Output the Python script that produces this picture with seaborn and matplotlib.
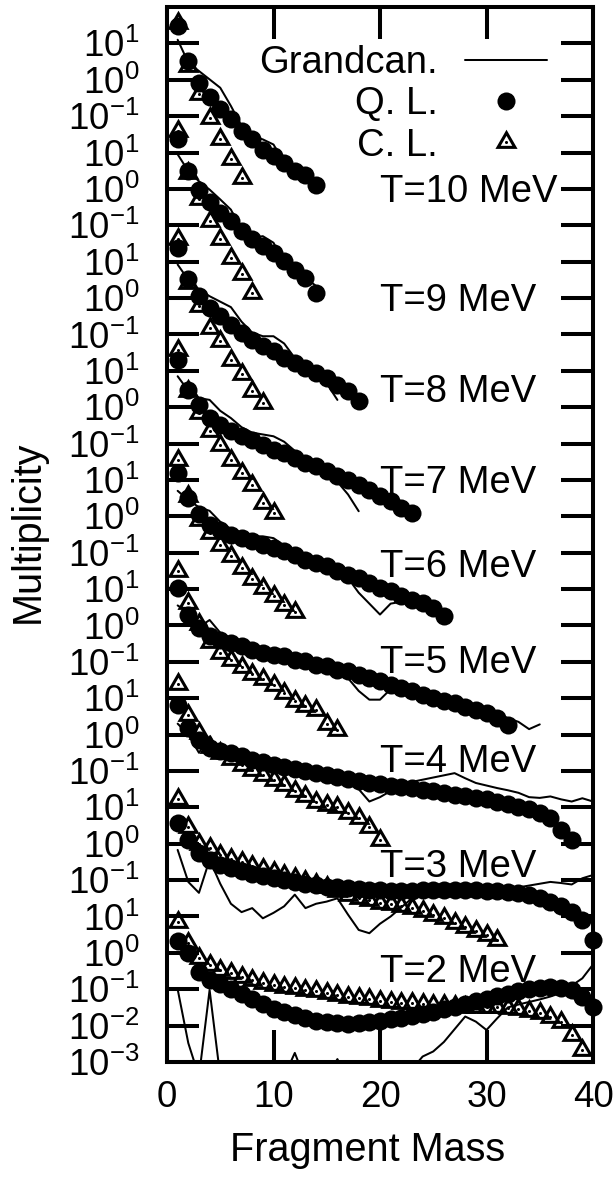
import numpy as np
import pandas as pd
import matplotlib
matplotlib.use("Agg")
import matplotlib.pyplot as plt
from matplotlib.lines import Line2D
import seaborn as sns

# Fragment multiplicities (log10) for each temperature.
# Element i of every list belongs to fragment mass i + 1.

# grand-canonical model (solid line)
gc_t10 = [1.10, 0.47, 0.24, 0.01, -0.22, -0.72, -1.27, -1.55, -1.64, -1.78, -2.28, -2.56, -2.65, -2.79]
gc_t9 = [0.95, 0.49, 0.21, -0.02, -0.29, -0.57, -1.12, -1.34, -1.30, -1.48, -2.03, -2.26, -2.44, -2.67]
gc_t8 = [0.92, 0.50, 0.23, 0.05, -0.10, -0.25, -0.65, -0.95, -1.05, -1.05, -1.25, -1.65, -1.85, -2.00, -2.35, -2.80]
gc_t7 = [0.85, 0.45, 0.25, 0.20, -0.10, -0.30, -0.55, -0.70, -0.75, -0.80, -0.95, -1.20, -1.40, -1.55, -1.70,
         -2.05, -2.40, -2.86]
gc_t6 = [0.70, 0.45, 0.25, 0.15, -0.15, -0.35, -0.45, -0.55, -0.55, -0.60, -0.80, -0.95, -1.10, -1.20, -1.35,
         -1.50, -1.70, -2.10, -2.40, -2.70, -2.40, -2.35, -2.30, -2.40, -2.50, -2.70]
gc_t5 = [0.55, 0.35, -0.05, 0.15, -0.20, -0.35, -0.45, -0.55, -0.65, -0.75, -0.80, -0.85, -0.90, -0.95, -1.00,
         -1.20, -1.45, -1.80, -2.04, -2.04, -1.75, -1.72, -1.75, -1.80, -1.88, -1.95, -2.05, -2.12, -2.20, -2.30,
         -2.40, -2.55, -2.65, -2.85, -2.72]
gc_t4 = [0.30, 0.00, -0.50, -0.05, -0.50, -0.58, -0.65, -0.70, -0.78, -0.85, -0.90, -0.95, -1.00, -1.05, -1.10,
         -1.18, -1.30, -1.50, -1.84, -1.72, -1.55, -1.38, -1.30, -1.24, -1.18, -1.12, -1.06, -1.20, -1.33, -1.40,
         -1.47, -1.53, -1.60, -1.72, -1.74, -1.70, -1.78, -1.84, -1.75, -1.84]
gc_t3 = [-0.17, -1.05, -1.35, -0.44, -1.10, -1.65, -1.88, -1.77, -2.05, -1.90, -1.72, -1.40, -1.77, -1.65, -1.59,
         -1.50, -1.95, -2.37, -2.46, -2.20, -2.00, -1.75, -1.50, -1.35, -1.30, -1.28, -1.25, -1.30, -1.22, -1.28,
         -1.25, -1.30, -1.20, -1.15, -1.10, -1.05, -1.08, -1.12, -0.95, -0.86]
gc_t2 = [-1.00, -2.48, -3.40, -1.02, -3.40, -3.60, -3.80, -3.50, -3.70, -3.60, -3.40, -2.75, -3.50, -3.70, -3.40,
         -2.92, -3.50, -3.80, -3.60, -3.40, -3.50, -3.30, -3.20, -2.85, -2.71, -2.45, -2.10, -1.75, -1.89, -2.12,
         -1.80, -1.50, -1.42, -1.35, -1.28, -1.20, -1.10, -0.90, -0.70, -0.32]

# quantum lattice gas (filled circles)
ql_t10 = [1.48, 0.51, -0.08, -0.47, -0.80, -1.08, -1.40, -1.64, -1.92, -2.10, -2.30, -2.50, -2.62, -2.88]
ql_t9 = [1.36, 0.49, -0.02, -0.36, -0.66, -0.89, -1.16, -1.39, -1.57, -1.76, -1.99, -2.22, -2.44, -2.86]
ql_t8 = [1.38, 0.51, 0.05, -0.27, -0.50, -0.73, -0.96, -1.14, -1.33, -1.46, -1.64, -1.78, -1.92, -2.06, -2.19,
         -2.38, -2.56, -2.84]
ql_t7 = [1.31, 0.48, 0.07, -0.29, -0.48, -0.66, -0.80, -0.89, -1.03, -1.17, -1.26, -1.39, -1.53, -1.63, -1.76,
         -1.90, -1.99, -2.13, -2.27, -2.45, -2.59, -2.77, -2.91]
ql_t6 = [1.19, 0.50, 0.05, -0.23, -0.37, -0.51, -0.60, -0.69, -0.78, -0.87, -0.96, -1.05, -1.19, -1.28, -1.37,
         -1.51, -1.60, -1.69, -1.83, -1.97, -2.06, -2.20, -2.29, -2.38, -2.52, -2.75]
ql_t5 = [1.03, 0.30, -0.07, -0.30, -0.39, -0.48, -0.57, -0.67, -0.76, -0.80, -0.85, -0.94, -0.99, -1.08, -1.12,
         -1.22, -1.26, -1.35, -1.44, -1.54, -1.63, -1.72, -1.81, -1.90, -2.00, -2.09, -2.13, -2.23, -2.32, -2.41,
         -2.55, -2.73]
ql_t4 = [0.82, 0.18, -0.14, -0.37, -0.44, -0.51, -0.60, -0.69, -0.76, -0.83, -0.89, -0.95, -1.01, -1.06, -1.10,
         -1.17, -1.22, -1.27, -1.32, -1.36, -1.40, -1.44, -1.48, -1.52, -1.56, -1.61, -1.65, -1.68, -1.73, -1.77,
         -1.84, -1.90, -1.98, -2.05, -2.16, -2.30, -2.62, -2.89]
ql_t3 = [0.57, 0.11, -0.26, -0.46, -0.58, -0.67, -0.76, -0.83, -0.90, -0.95, -1.01, -1.06, -1.10, -1.14, -1.18,
         -1.20, -1.23, -1.25, -1.27, -1.28, -1.29, -1.29, -1.29, -1.28, -1.28, -1.27, -1.27, -1.27, -1.28, -1.30,
         -1.31, -1.33, -1.36, -1.42, -1.48, -1.60, -1.72, -1.88, -2.10, -2.65]
ql_t2 = [0.33, 0.00, -0.52, -0.75, -0.85, -0.99, -1.13, -1.27, -1.41, -1.53, -1.63, -1.72, -1.80, -1.86, -1.90,
         -1.93, -1.95, -1.93, -1.90, -1.86, -1.82, -1.78, -1.73, -1.68, -1.62, -1.55, -1.48, -1.40, -1.33, -1.26,
         -1.19, -1.12, -1.06, -1.00, -0.96, -0.95, -0.96, -1.01, -1.20, -1.50]

# classical lattice gas (open triangles)
cl_t10 = [1.57, 0.38, -0.40, -1.04, -1.64, -2.17, -2.69]
cl_t9 = [1.59, 0.44, -0.29, -0.89, -1.39, -1.89, -2.35, -2.86]
cl_t8 = [1.61, 0.40, -0.22, -0.82, -1.19, -1.69, -2.10, -2.56, -2.88]
cl_t7 = [1.58, 0.45, -0.16, -0.66, -1.03, -1.44, -1.81, -2.13, -2.63, -2.91]
cl_t6 = [1.56, 0.55, -0.09, -0.46, -0.78, -1.10, -1.42, -1.72, -1.97, -2.20, -2.43, -2.63]
cl_t5 = [1.49, 0.62, 0.05, -0.45, -0.75, -0.95, -1.15, -1.33, -1.47, -1.65, -1.86, -2.09, -2.22, -2.32, -2.70,
         -2.87]
cl_t4 = [1.40, 0.55, 0.05, -0.35, -0.50, -0.66, -0.83, -0.97, -1.10, -1.24, -1.38, -1.55, -1.70, -1.84, -1.93,
         -1.98, -2.16, -2.30, -2.53, -2.89]
cl_t3 = [1.23, 0.45, -0.02, -0.12, -0.30, -0.42, -0.51, -0.60, -0.70, -0.78, -0.85, -0.95, -1.02, -1.10, -1.20,
         -1.30, -1.40, -1.50, -1.56, -1.62, -1.65, -1.71, -1.77, -1.86, -1.95, -2.05, -2.17, -2.28, -2.39, -2.52,
         -2.66]
cl_t2 = [0.86, 0.27, -0.15, -0.33, -0.47, -0.56, -0.65, -0.74, -0.82, -0.88, -0.93, -0.97, -1.02, -1.06, -1.11,
         -1.15, -1.20, -1.24, -1.27, -1.31, -1.34, -1.37, -1.38, -1.40, -1.42, -1.44, -1.46, -1.48, -1.49, -1.49,
         -1.50, -1.52, -1.55, -1.59, -1.66, -1.77, -1.89, -2.25, -2.67]

temperatures = [10, 9, 8, 7, 6, 5, 4, 3, 2]
tag_texts = ["T=10 MeV", "T=9 MeV", "T=8 MeV", "T=7 MeV", "T=6 MeV", "T=5 MeV", "T=4 MeV", "T=3 MeV", "T=2 MeV"]
# baseline of each temperature tag, log10 units inside its own panel
tag_log10 = [-3.37, -3.37, -2.87, -2.35, -1.66, -1.30, -1.02, -0.91, -0.80]

series_names = ["Grandcan.", "Q. L.", "C. L."]
x_ticks = [0, 10, 20, 30, 40]

grandcan = dict(zip(temperatures, [gc_t10, gc_t9, gc_t8, gc_t7, gc_t6, gc_t5, gc_t4, gc_t3, gc_t2]))
quantum = dict(zip(temperatures, [ql_t10, ql_t9, ql_t8, ql_t7, ql_t6, ql_t5, ql_t4, ql_t3, ql_t2]))
classical = dict(zip(temperatures, [cl_t10, cl_t9, cl_t8, cl_t7, cl_t6, cl_t5, cl_t4, cl_t3, cl_t2]))

# each temperature panel is lifted by three decades above the previous one
DECADES_PER_PANEL = 3
T_BASE = 2


def panel_shift(T):
    return DECADES_PER_PANEL * (T - T_BASE)


frames = []
for name, table in zip(series_names, [grandcan, quantum, classical]):
    for T in temperatures:
        logs = np.asarray(table[T], dtype=float)
        frames.append(pd.DataFrame({
            "mass": np.arange(1, len(logs) + 1),
            "multiplicity": 10.0 ** (logs + panel_shift(T)),
            "T": T,
            "model": name,
        }))
df = pd.concat(frames, ignore_index=True)

# ---- style ---------------------------------------------------------------
sns.set_theme(style="ticks")
FS = 26.5
FS_LABEL = 28.5
plt.rcParams.update({
    "font.family": ["Liberation Sans", "DejaVu Sans"],
    "font.size": FS,
    "mathtext.fontset": "custom",
    "mathtext.rm": "Liberation Sans",
    "mathtext.it": "Liberation Sans:italic",
    "mathtext.bf": "Liberation Sans:bold",
    "mathtext.sf": "Liberation Sans",
    "mathtext.default": "regular",
    "axes.edgecolor": "black",
    "axes.linewidth": 2.9,
    "text.color": "black",
    "xtick.color": "black",
    "ytick.color": "black",
})

W, H = 616, 1177
fig = plt.figure(figsize=(W / 100, H / 100), dpi=100)
ax = fig.add_axes([167 / W, 1 - 1062 / H, 426 / W, 1055 / H])
ax.set_yscale("log")

LW = 1.45
MS_DOT = 13.0
MS_TRI = 14.0
MEW_TRI = 2.2

sns.lineplot(data=df[df.model == "Grandcan."], x="mass", y="multiplicity", units="T",
             estimator=None, sort=False, color="black", lw=LW, legend=False, ax=ax, zorder=2)
sns.lineplot(data=df[df.model == "C. L."], x="mass", y="multiplicity", units="T",
             estimator=None, sort=False, color="black", ls="none", marker=(3, 0, 0), ms=MS_TRI,
             mfc="none", mec="black", mew=MEW_TRI, legend=False, ax=ax, zorder=3, clip_on=False)
sns.lineplot(data=df[df.model == "C. L."], x="mass", y="multiplicity", units="T",
             estimator=None, sort=False, color="black", ls="none", marker="o", ms=2.2,
             mfc="black", mec="black", mew=0, legend=False, ax=ax, zorder=3, clip_on=False)
sns.lineplot(data=df[df.model == "Q. L."], x="mass", y="multiplicity", units="T",
             estimator=None, sort=False, color="black", ls="none", marker="o", ms=MS_DOT,
             mfc="black", mec="black", mew=0, legend=False, ax=ax, zorder=4, clip_on=False)

# ---- axes ----------------------------------------------------------------
y_low = -3
y_high = panel_shift(max(temperatures)) + 2
ax.set_xlim(0, 40)
ax.set_ylim(10.0 ** y_low, 10.0 ** y_high)

tick_exps = list(range(y_low, y_high))
shown_exps = [e if e < -1 else (e + 1) % DECADES_PER_PANEL - 1 for e in tick_exps]
ax.set_yticks([10.0 ** e for e in tick_exps], [r"$10^{%d}$" % s for s in shown_exps])
ax.yaxis.set_minor_locator(matplotlib.ticker.NullLocator())
ax.set_xticks(x_ticks, [str(v) for v in x_ticks])

ax.tick_params(axis="both", which="major", direction="in", length=23, width=2.9,
               top=True, right=True, labelsize=FS)
ax.tick_params(axis="y", pad=20)
ax.tick_params(axis="x", pad=13)
for side in ax.spines.values():
    side.set_linewidth(2.9)
    side.set_color("black")

ax.set_xlabel("")
ax.set_ylabel("")
fig.text(368 / W, 1 - 1150 / H, "Fragment Mass", ha="center", va="center", fontsize=FS_LABEL)
fig.text(28 / W, 1 - 532 / H, "Multiplicity", ha="center", va="center", rotation=90, fontsize=FS_LABEL)

# temperature tags
for T, text, pos in zip(temperatures, tag_texts, tag_log10):
    ax.text(20, 10.0 ** (pos + panel_shift(T)), text, ha="left", va="baseline", fontsize=27.5, zorder=5)

# ---- legend --------------------------------------------------------------
handles = [
    Line2D([], [], color="black", lw=LW),
    Line2D([], [], ls="none", marker="o", ms=MS_DOT, mfc="black", mec="black", mew=0),
    (Line2D([], [], ls="none", marker=(3, 0, 0), ms=MS_TRI, mfc="none", mec="black", mew=MEW_TRI),
     Line2D([], [], ls="none", marker="o", ms=2.2, mfc="black", mec="black", mew=0)),
]
ax.legend(handles, series_names, loc="upper right", bbox_to_anchor=((547 - 167) / 426, (1062 - 45) / 1055),
          frameon=False, markerfirst=False, handlelength=2.15, handletextpad=0.7,
          labelspacing=0.14, borderpad=0, borderaxespad=0, fontsize=27.5)

fig.savefig("out.png", dpi=100)
